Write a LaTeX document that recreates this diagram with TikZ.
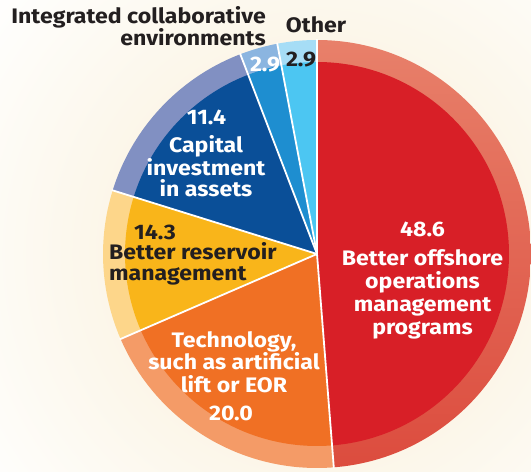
\documentclass[tikz,border=0pt]{standalone}
\usepackage{fontspec}
\setmainfont{Fira Sans}
\usetikzlibrary{calc}
\definecolor{bgcream}{HTML}{F8EDD2}
\definecolor{redin}{HTML}{D81F27}
\definecolor{redringtop}{HTML}{E8806A}
\definecolor{redringbot}{HTML}{DC4C3E}
\definecolor{orin}{HTML}{F07024}
\definecolor{orring}{HTML}{F49B67}
\definecolor{yein}{HTML}{F9B51A}
\definecolor{yering}{HTML}{FDD68A}
\definecolor{dbin}{HTML}{0A4F98}
\definecolor{dbring}{HTML}{8190C2}
\definecolor{mbin}{HTML}{1E8ED0}
\definecolor{mbring}{HTML}{8BB5E0}
\definecolor{lbin}{HTML}{4CC6F2}
\definecolor{lbring}{HTML}{A6DDF6}
\definecolor{ink}{HTML}{231F20}
\tikzset{
  lab/.style={font=\bfseries\fontsize{21}{23}\selectfont, inner sep=0pt, align=center, xscale=1.1},
  sep/.style={draw=white, line width=1.8pt},
}
\newcommand{\wedgefill}[4]{% color, start, end, radius
  \fill[#1] (C) -- ($(C)+(#2:#4)$) arc[start angle=#2, end angle=#3, radius=#4] -- cycle;}
\begin{document}
\begin{tikzpicture}[x=1pt,y=1pt]
\useasboundingbox (0,0) rectangle (531,472);
\fill[white] (0,0) rectangle (531,472);
\shade[inner color=bgcream, outer color=white] (317,218) circle[radius=420];
\coordinate (C) at (317,218);
% outer ring
\shade[top color=redringtop, bottom color=redringbot] (C) -- ($(C)+(90:214)$) arc[start angle=90, end angle=-85.5, radius=214] -- cycle;
\wedgefill{orring}{-85.5}{-156.6}{214}
\wedgefill{yering}{-156.6}{-197.3}{214}
\wedgefill{dbring}{162.7}{111}{214}
\wedgefill{mbring}{111}{100.7}{214}
\wedgefill{lbring}{100.7}{90}{214}
% inner
\wedgefill{redin}{90}{-85.5}{192}
\wedgefill{orin}{-85.5}{-156.6}{192}
\wedgefill{yein}{-156.6}{-197.3}{192}
\wedgefill{dbin}{162.7}{111}{192}
\wedgefill{mbin}{111}{100.7}{192}
\wedgefill{lbin}{100.7}{90}{192}
% separators
\foreach \a/\n in {90/s1,-85.5/s2,-156.6/s3,162.7/s4,111/s5,100.7/s6}
  \coordinate (\n) at ($(C)+(\a:215)$);
\foreach \n in {s1,s2,s3,s4,s5,s6}
  \draw[sep] (C) -- (\n);
% labels
\node[lab, text=ink, align=right, anchor=east, font=\bfseries\fontsize{21}{22}\selectfont] (hdr) at (266,446) {Integrated collaborative\\environments};
\node[lab, text=ink] (other) at (316,447) {Other};
\node[lab, text=white] (v29a) at (265,407) {2.9};
\node[lab, text=ink] (v29b) at (301,412) {2.9};
\node[lab, text=white] (v114) at (206.5,355) {11.4};
\node[lab, text=white, font=\bfseries\fontsize{21}{21}\selectfont] (cap) at (206,306) {Capital\\investment\\in assets};
\node[lab, text=ink] (v143) at (155,239.5) {14.3};
\node[lab, text=ink, anchor=west, align=left, font=\bfseries\fontsize{21}{21}\selectfont] (res) at (109,208) {Better reservoir\\management};
\node[lab, text=white, font=\bfseries\fontsize{21}{22.5}\selectfont] (tech) at (234,110) {Technology,\\such as artificial\\lift or EOR};
\node[lab, text=white] (v200) at (231,59) {20.0};
\node[lab, text=white] (v486) at (422.5,242.5) {48.6};
\node[lab, text=white, font=\bfseries\fontsize{21}{23}\selectfont] (off) at (422.5,178) {Better offshore\\operations\\management\\programs};
\end{tikzpicture}
\end{document}
